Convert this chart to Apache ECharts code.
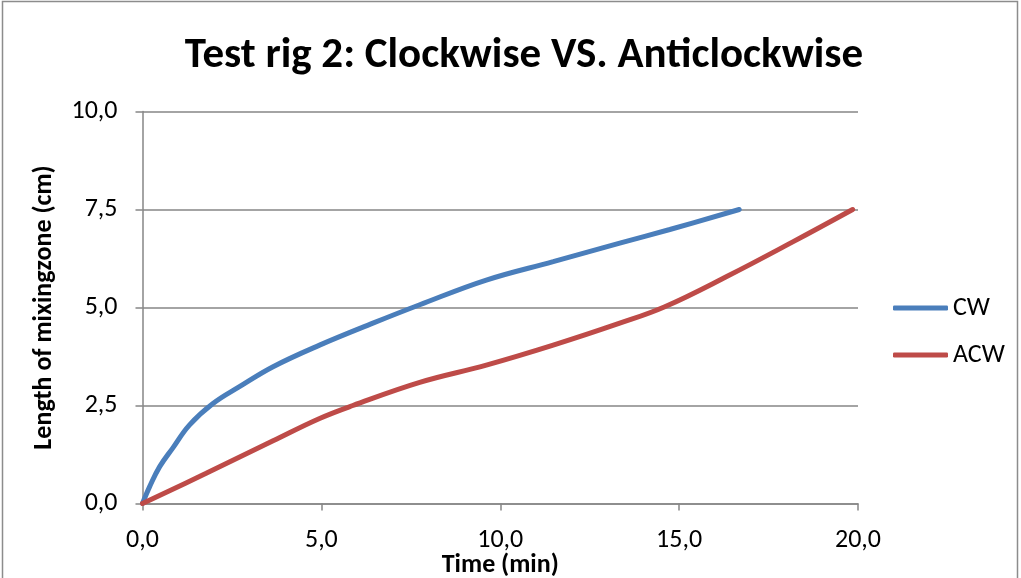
<!DOCTYPE html>
<html>
<head>
<meta charset="utf-8">
<script src="https://cdn.jsdelivr.net/npm/echarts@6/dist/echarts.min.js"></script>
<style>
  html, body { margin: 0; padding: 0; background: #fff; }
  #chart { width: 1021px; height: 578px; }
</style>
</head>
<body>
<div id="chart"></div>
<script>
// Time (min) and length of mixing zone (cm) for each rotation direction
const cwTime   = [0, 0.2, 0.48, 0.85, 1.31, 1.97, 2.71, 3.65, 4.95, 6.44, 7.75, 9.61, 11.48, 13.34, 14.74, 16.68];
const cwLength = [0, 0.43, 0.94, 1.42, 2.0, 2.55, 2.98, 3.49, 4.04, 4.6, 5.07, 5.7, 6.17, 6.64, 6.99, 7.5];

const acwTime   = [0, 1.78, 3.65, 4.95, 5.88, 7.75, 9.61, 11.48, 13.34, 14.6, 16.33, 18.19, 19.85];
const acwLength = [0, 0.77, 1.6, 2.17, 2.5, 3.09, 3.53, 4.04, 4.6, 5.02, 5.79, 6.68, 7.5];

const seriesNames = ['CW', 'ACW'];
const titleText = 'Test rig 2: Clockwise VS. Anticlockwise';
const xAxisName = 'Time (min)';
const yAxisName = 'Length of mixingzone (cm)';

const FONT = "Carlito, 'Liberation Sans Narrow', 'Open Sans', sans-serif";
const comma1 = v => v.toFixed(1).replace('.', ',');
const pairs = (xs, ys) => xs.map((x, i) => [x, ys[i]]);

const chart = echarts.init(document.getElementById('chart'));
chart.setOption({
  animation: false,
  backgroundColor: '#fff',
  textStyle: { fontFamily: FONT },
  title: {
    text: titleText,
    left: 519, top: 30, textAlign: 'center',
    textStyle: { fontFamily: FONT, fontSize: 43, fontWeight: 'bold', color: '#000' }
  },
  graphic: [{
    type: 'rect', silent: true,
    shape: { x: 2.5, y: 1.5, width: 1015, height: 620 },
    style: { fill: null, stroke: '#8c8c8c', lineWidth: 1.5 }
  }],
  legend: {
    orient: 'vertical', left: 888, top: 290, itemGap: 21,
    itemWidth: 55, itemHeight: 5, icon: 'roundRect',
    textStyle: { fontFamily: FONT, fontSize: 26, color: '#000' },
    data: seriesNames
  },
  grid: {
    left: 142.5, right: 163, top: 111.5, bottom: 74.5,
    containLabel: false, outerBoundsMode: 'none'
  },
  xAxis: {
    type: 'value', min: 0, max: 20, interval: 5,
    name: xAxisName, nameLocation: 'middle', nameGap: 49, nameMoveOverlap: false,
    nameTextStyle: { fontFamily: FONT, fontSize: 26, fontWeight: 'bold', color: '#000' },
    axisLine: { show: true, lineStyle: { color: '#868686', width: 1.5 } },
    axisTick: { show: true, length: 7, lineStyle: { color: '#868686', width: 1.5 } },
    axisLabel: { formatter: comma1, fontSize: 26, color: '#000', margin: 24, fontFamily: FONT },
    splitLine: { show: false }
  },
  yAxis: {
    type: 'value', min: 0, max: 10, interval: 2.5,
    name: yAxisName, nameLocation: 'middle', nameGap: 85, nameRotate: 90, nameMoveOverlap: false,
    nameTextStyle: { fontFamily: FONT, fontSize: 26, fontWeight: 'bold', color: '#000' },
    axisLine: { show: true, lineStyle: { color: '#868686', width: 1.5 } },
    axisTick: { show: true, length: 7, lineStyle: { color: '#868686', width: 1.5 } },
    axisLabel: { formatter: comma1, fontSize: 26, color: '#000', margin: 25, fontFamily: FONT },
    splitLine: { show: true, lineStyle: { color: '#868686', width: 1.5 } }
  },
  series: [
    {
      name: seriesNames[0], type: 'line', smooth: 0.4, showSymbol: false,
      data: pairs(cwTime, cwLength),
      lineStyle: { color: '#4A7EBB', width: 5, cap: 'round' },
      itemStyle: { color: '#4A7EBB' }
    },
    {
      name: seriesNames[1], type: 'line', smooth: 0.4, showSymbol: false,
      data: pairs(acwTime, acwLength),
      lineStyle: { color: '#BE4B48', width: 5, cap: 'round' },
      itemStyle: { color: '#BE4B48' }
    }
  ]
});
</script>
</body>
</html>
